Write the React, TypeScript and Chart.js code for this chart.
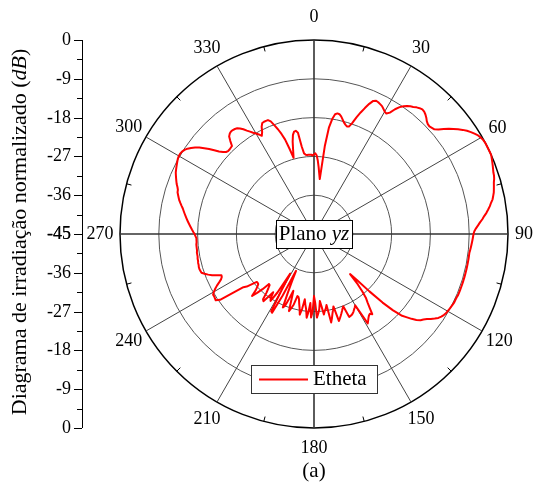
import React, { useEffect, useRef } from "react";
import { Chart, registerables } from "chart.js";

Chart.register(...registerables);

// Normalised E-theta pattern in the yz plane, one value per degree (dB).
const ETHETA_000_059 = [
  -26.5, -26.3, -26.8, -28, -29.5, -31, -32.2, -24.5, -20, -18,
  -16.8, -16.5, -16.6, -17, -17.6, -18.2, -18.6, -18.9, -18.8, -17.8,
  -16.2, -14.8, -13.5, -12.2, -11.2, -10.9, -11, -11.2, -11.4, -11.8,
  -12.2, -12.4, -11.8, -10.5, -9.5, -8.8, -8.3, -7.9, -7.6, -7.2,
  -6.9, -6.7, -6.8, -7.1, -7.5, -8, -8.3, -8.4, -8.2, -8,
  -7.3, -6.3, -5.3, -4.5, -3.7, -2.9, -2.2, -1.6, -1.1, -0.6,
];
const ETHETA_060_119 = [
  -0.3, -0.1, 0, 0, 0, 0, 0, -0.2, -0.4, -0.6,
  -0.8, -1, -1.1, -1.3, -1.6, -1.8, -2, -2.2, -2.5, -2.8,
  -3.3, -3.7, -4.2, -4.7, -5.3, -5.8, -6.4, -6.9, -7.4, -7.8,
  -8, -8.1, -8.2, -8.3, -8.4, -8.5, -8.6, -8.7, -8.7, -8.7,
  -8.7, -8.7, -8.7, -8.7, -8.7, -8.7, -8.7, -8.7, -8.7, -8.7,
  -8.7, -8.7, -8.7, -8.7, -8.8, -8.8, -8.8, -8.9, -9, -9.1,
];
const ETHETA_120_179 = [
  -9.2, -9.3, -9.5, -9.8, -10.2, -10.8, -11.5, -12.2, -12.8, -13.2,
  -14, -15, -16.2, -17.3, -19.5, -22.5, -26.5, -30.5, -32.5, -29.5,
  -27.5, -25.8, -24.8, -23.5, -22, -22.4, -22.2, -21.8, -21.3, -20.8,
  -25.9, -25.5, -25.2, -24.8, -24.5, -24.3, -24.2, -24.1, -26.9, -26.5,
  -26, -25.5, -25, -24.5, -24, -27.6, -26.8, -26, -25, -24.1,
  -28.3, -27.5, -27, -26.2, -28, -29.4, -27.5, -26.5, -25.6, -29,
];
const ETHETA_180_239 = [
  -30.6, -27, -25.6, -29, -27, -25.5, -27.5, -28.5, -29.7, -27.5,
  -26, -27.5, -28.5, -29.5, -30, -30.1, -28, -27, -26.2, -29,
  -31, -29, -27, -26.5, -30, -33, -35.5, -29, -24.3, -24.5,
  -30, -34.3, -29, -26.5, -27, -28.5, -27, -25.5, -25.8, -27.5,
  -28.5, -29.3, -29.4, -27.5, -26, -24.7, -26.2, -27, -27.6, -27.7,
  -27.7, -26.5, -25.2, -24.5, -22, -18.4, -17.5, -17.6, -17.7, -17.7,
];
const ETHETA_240_299 = [
  -18.2, -18.8, -19.5, -20.3, -21, -21.4, -21.5, -20.5, -19.5, -18.7,
  -18, -17.4, -17.3, -17.2, -17.2, -17.3, -17.3, -17.4, -17.4, -17.5,
  -17.5, -17.5, -17.6, -17.6, -17.6, -17.6, -17.7, -17.7, -17.7, -17.5,
  -17.3, -17, -16.7, -16.4, -16.1, -15.8, -15.5, -15.2, -14.9, -14.6,
  -14.3, -14, -13.6, -13.2, -12.8, -12.5, -12.2, -11.9, -11.8, -11.5,
  -11.1, -10.8, -10.5, -10.2, -9.9, -9.7, -9.5, -9.3, -9.1, -8.9,
];
const ETHETA_300_359 = [
  -8.8, -8.8, -8.9, -9.2, -9.6, -10.2, -10.9, -11.7, -12.7, -13.7,
  -14.8, -15.8, -16.6, -17.1, -17.3, -17.3, -17.2, -17.1, -16, -15,
  -14.6, -14.4, -14.4, -14.5, -14.7, -15.1, -15.7, -16.4, -17, -17.6,
  -18.1, -18.6, -19.2, -18.5, -17.3, -16.6, -16.5, -16.5, -16.5, -17,
  -18.2, -19.3, -20.6, -22.1, -24.5, -26.7, -25, -23, -21.5, -20.8,
  -20.7, -21.2, -24.5, -26.2, -26.5, -26.6, -26.6, -26.6, -26.6, -26.8,
];

const ethetaDb = [
  ...ETHETA_000_059,
  ...ETHETA_060_119,
  ...ETHETA_120_179,
  ...ETHETA_180_239,
  ...ETHETA_240_299,
  ...ETHETA_300_359,
];

// One category per degree, clockwise from the top.
const degreeLabels = ethetaDb.map((_, i) => String(i));

const ANGLE_TICK_LABELS = ["0", "30", "60", "90", "120", "150", "180", "210", "240", "270", "300", "330"];
const ANGLE_TICK_STEP = 30;
const RADIAL_TICKS = [0, -9, -18, -27, -36, -45];
const DB_MIN = -45;
const DB_MAX = 0;

const SERIES_NAME = "Etheta";
const PLANE_TEXT = "Plano ";
const PLANE_AXES = "yz";
const AXIS_TITLE = "Diagrama de irradiação normalizado (";
const AXIS_UNIT = "dB";
const AXIS_TITLE_END = ")";
const CAPTION = "(a)";

const SERIF = '"Liberation Serif", "Times New Roman", serif';

// gap between the outer ring and each angle label
const labelGap = (deg: number) => (deg === 0 ? 23 : deg === 90 ? 16 : deg === 60 ? 18 : 20);

const polarDecor = {
  id: "polarDecor",
  afterDraw(chart: any) {
    const ctx: CanvasRenderingContext2D = chart.ctx;
    const r = chart.scales.r;
    const cx = r.xCenter;
    const cy = r.yCenter;
    const R = r.drawingArea;
    ctx.save();

    // small inward ticks on the outer ring between the labelled spokes
    ctx.strokeStyle = "#000";
    ctx.lineWidth = 1;
    for (let a = ANGLE_TICK_STEP / 2; a < 360; a += ANGLE_TICK_STEP) {
      const p1 = r.getPointPosition(a, R);
      const p2 = r.getPointPosition(a, R - 5);
      ctx.beginPath();
      ctx.moveTo(p1.x, p1.y);
      ctx.lineTo(p2.x, p2.y);
      ctx.stroke();
    }

    // angle labels around the ring
    ctx.fillStyle = "#000";
    ctx.font = `18px ${SERIF}`;
    ctx.textAlign = "center";
    ctx.textBaseline = "middle";
    ANGLE_TICK_LABELS.forEach((lab, k) => {
      const deg = k * ANGLE_TICK_STEP;
      const p = r.getPointPosition(deg, R + labelGap(deg));
      ctx.fillText(lab, p.x, p.y);
    });

    // vertical dB axis on the left, mirrored about the centre
    const axX = 82;
    ctx.strokeStyle = "#000";
    ctx.lineWidth = 1;
    ctx.beginPath();
    ctx.moveTo(axX + 0.5, cy - R);
    ctx.lineTo(axX + 0.5, cy + R);
    ctx.stroke();
    ctx.textAlign = "right";
    ctx.font = `18px ${SERIF}`;
    RADIAL_TICKS.forEach((v) => {
      const d = r.getDistanceFromCenterForValue(v);
      [-1, 1].forEach((s) => {
        const y = Math.round(cy + s * d) + 0.5;
        ctx.beginPath();
        ctx.moveTo(axX - 8, y);
        ctx.lineTo(axX, y);
        ctx.stroke();
        ctx.fillText(String(v), axX - 11, y);
        if (v !== DB_MIN) {
          const dm = r.getDistanceFromCenterForValue(v - 4.5);
          const ym = Math.round(cy + s * dm) + 0.5;
          ctx.beginPath();
          ctx.moveTo(axX - 5, ym);
          ctx.lineTo(axX, ym);
          ctx.stroke();
        }
      });
    });

    // axis title, rotated
    ctx.save();
    ctx.translate(20, cy - 2);
    ctx.rotate(-Math.PI / 2);
    ctx.textAlign = "left";
    const fRoman = `22px ${SERIF}`;
    const fItalic = `italic 22px ${SERIF}`;
    ctx.font = fRoman;
    const w1 = ctx.measureText(AXIS_TITLE).width;
    const w3 = ctx.measureText(AXIS_TITLE_END).width;
    ctx.font = fItalic;
    const w2 = ctx.measureText(AXIS_UNIT).width;
    let x0 = -(w1 + w2 + w3) / 2;
    ctx.font = fRoman;
    ctx.fillText(AXIS_TITLE, x0, 0);
    x0 += w1;
    ctx.font = fItalic;
    ctx.fillText(AXIS_UNIT, x0, 0);
    x0 += w2;
    ctx.font = fRoman;
    ctx.fillText(AXIS_TITLE_END, x0, 0);
    ctx.restore();

    // plane tag in the middle
    {
      const bw = 76;
      const bh = 28;
      const bx = Math.round(cx - bw / 2) + 0.5;
      const by = Math.round(cy - bh / 2) + 0.5;
      ctx.fillStyle = "#fff";
      ctx.fillRect(bx, by, bw, bh);
      ctx.strokeStyle = "#000";
      ctx.strokeRect(bx, by, bw, bh);
      ctx.fillStyle = "#000";
      ctx.textAlign = "left";
      ctx.font = `21px ${SERIF}`;
      const a = ctx.measureText(PLANE_TEXT).width;
      ctx.font = `italic 21px ${SERIF}`;
      const b = ctx.measureText(PLANE_AXES).width;
      const sx = cx - (a + b) / 2;
      ctx.font = `21px ${SERIF}`;
      ctx.fillText(PLANE_TEXT, sx, cy);
      ctx.font = `italic 21px ${SERIF}`;
      ctx.fillText(PLANE_AXES, sx + a, cy);
    }

    // legend box
    {
      const bx = 251.5;
      const by = 365.5;
      const bw = 126;
      const bh = 28;
      ctx.fillStyle = "#fff";
      ctx.fillRect(bx, by, bw, bh);
      ctx.strokeStyle = "#333";
      ctx.lineWidth = 1;
      ctx.strokeRect(bx, by, bw, bh);
      ctx.strokeStyle = "#ff0000";
      ctx.lineWidth = 2;
      ctx.beginPath();
      ctx.moveTo(259, by + bh / 2);
      ctx.lineTo(308, by + bh / 2);
      ctx.stroke();
      ctx.fillStyle = "#000";
      ctx.textAlign = "left";
      ctx.font = `21px ${SERIF}`;
      ctx.fillText(SERIES_NAME, 313, by + bh / 2);
    }

    // caption
    ctx.textAlign = "center";
    ctx.font = `21px ${SERIF}`;
    ctx.fillText(CAPTION, cx, 471);

    ctx.restore();
  },
};

export default function App() {
  const canvasRef = useRef<HTMLCanvasElement | null>(null);

  useEffect(() => {
    const canvas = canvasRef.current;
    if (!canvas) return;
    const chart = new Chart(canvas, {
      type: "radar",
      data: {
        labels: degreeLabels,
        datasets: [
          {
            label: SERIES_NAME,
            data: ethetaDb,
            borderColor: "#ff0000",
            borderWidth: 2,
            pointRadius: 0,
            pointHoverRadius: 0,
            fill: false,
            tension: 0,
          },
        ],
      },
      options: {
        animation: false,
        responsive: false,
        events: [],
        layout: { padding: { left: 120, top: 40, right: 26, bottom: 57 } },
        elements: { line: { borderJoinStyle: "round" } },
        plugins: {
          legend: { display: false },
          tooltip: { enabled: false },
        },
        scales: {
          r: {
            min: DB_MIN,
            max: DB_MAX,
            startAngle: 0,
            ticks: { display: false, stepSize: 9 },
            pointLabels: { display: false },
            grid: {
              circular: true,
              color: (c: any) => (c.tick && c.tick.value === DB_MAX ? "#000" : "#555"),
              lineWidth: (c: any) => (c.tick && c.tick.value === DB_MAX ? 1.5 : 1),
            },
            angleLines: {
              color: (c: any) =>
                c.index % ANGLE_TICK_STEP === 0 ? (c.index % 90 === 0 ? "#333" : "#444") : "rgba(0,0,0,0)",
              lineWidth: (c: any) =>
                c.index % ANGLE_TICK_STEP === 0 ? (c.index % 90 === 0 ? 1.6 : 1) : 0,
            },
          },
        },
      },
      plugins: [polarDecor],
    });
    return () => chart.destroy();
  }, []);

  return (
    <div style={{ position: "absolute", left: 0, top: 0, width: 534, height: 485, background: "#fff" }}>
      <canvas ref={canvasRef} width={534} height={485} style={{ display: "block" }} />
    </div>
  );
}
